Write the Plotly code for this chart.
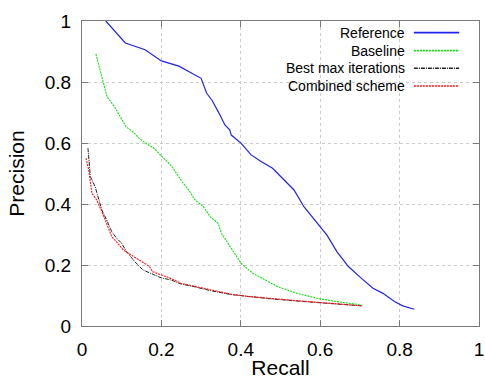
import plotly.graph_objects as go

# ---- data ----
ref_recall = [0.06, 0.109, 0.159, 0.2, 0.244, 0.269, 0.3, 0.314, 0.327, 0.343, 0.36, 0.372, 0.376,
              0.401, 0.426, 0.451, 0.48, 0.493, 0.513, 0.534, 0.559, 0.592, 0.617, 0.642, 0.671,
              0.704, 0.733, 0.758, 0.787, 0.808, 0.837]
ref_precision = [1.0, 0.928, 0.906, 0.869, 0.852, 0.834, 0.812, 0.763, 0.741, 0.703, 0.659, 0.643, 0.626,
                 0.599, 0.561, 0.539, 0.517, 0.5, 0.473, 0.446, 0.391, 0.337, 0.298, 0.244, 0.195,
                 0.156, 0.124, 0.107, 0.08, 0.066, 0.055]

base_recall = [0.035, 0.063, 0.082, 0.111, 0.128, 0.144, 0.161, 0.182, 0.202, 0.227, 0.252, 0.269,
               0.285, 0.306, 0.323, 0.343, 0.351, 0.368, 0.385, 0.401, 0.43, 0.468, 0.493, 0.542,
               0.592, 0.642, 0.704]
base_precision = [0.892, 0.752, 0.719, 0.653, 0.637, 0.615, 0.599, 0.582, 0.555, 0.522, 0.473, 0.446,
                  0.413, 0.391, 0.358, 0.337, 0.304, 0.271, 0.238, 0.205, 0.173, 0.145, 0.129, 0.107,
                  0.091, 0.08, 0.069]

best_recall = [0.015, 0.021, 0.033, 0.05, 0.062, 0.075, 0.087, 0.1, 0.112, 0.133, 0.153, 0.174, 0.199,
               0.224, 0.249, 0.282, 0.323, 0.376, 0.418, 0.476, 0.54, 0.6, 0.65, 0.704]
best_precision = [0.583, 0.49, 0.457, 0.38, 0.348, 0.309, 0.288, 0.271, 0.244, 0.211, 0.184, 0.173,
                  0.158, 0.151, 0.138, 0.129, 0.116, 0.103, 0.097, 0.089, 0.082, 0.076, 0.071, 0.066]

comb_recall = [0.01, 0.017, 0.025, 0.037, 0.05, 0.062, 0.075, 0.087, 0.104, 0.124, 0.145, 0.17, 0.178,
               0.199, 0.224, 0.249, 0.282, 0.323, 0.376, 0.418, 0.476, 0.54, 0.6, 0.65, 0.706]
comb_precision = [0.55, 0.511, 0.435, 0.413, 0.375, 0.337, 0.293, 0.276, 0.249, 0.233, 0.216, 0.195,
                  0.178, 0.167, 0.156, 0.14, 0.131, 0.118, 0.104, 0.097, 0.09, 0.083, 0.077, 0.072, 0.066]

series_names = ["Reference", "Baseline", "Best max iterations", "Combined scheme"]
tick_vals = [0, 0.2, 0.4, 0.6, 0.8, 1]
tick_text = ["0", "0.2", "0.4", "0.6", "0.8", "1"]

# ---- styles ----
colors = ["#2222ee", "#11dd11", "#222222", "#ff1111"]
dashes = ["solid", "2px,1px", "4px,1px,1px,1px", "2px,1px"]
widths = [1.2, 1.1, 1.0, 1.1]
FONT = "Liberation Sans, Arial, sans-serif"

fig = go.Figure()
data = [(ref_recall, ref_precision), (base_recall, base_precision),
        (best_recall, best_precision), (comb_recall, comb_precision)]
for (xs, ys), name, c, d, w in zip(data, series_names, colors, dashes, widths):
    fig.add_trace(go.Scatter(x=xs, y=ys, mode="lines", name=name, showlegend=False,
                             line=dict(color=c, dash=d, width=w)))

# manual legend (text right-aligned, sample line to the right)
leg_y = [0.962, 0.903, 0.845, 0.787]
for name, c, d, w, yy in zip(series_names, colors, dashes, widths, leg_y):
    fig.add_annotation(x=0.818, y=yy, xref="paper", yref="paper", text=name, showarrow=False,
                       xanchor="right", yanchor="middle",
                       font=dict(family=FONT, size=14, color="black"))
    fig.add_shape(type="line", xref="paper", yref="paper", x0=0.836, x1=0.95, y0=yy, y1=yy,
                  line=dict(color=c, dash=d, width=w + 0.5))

axis_common = dict(range=[0, 1], tickvals=tick_vals, ticktext=tick_text,
                   showline=True, linecolor="#7a7a7a", linewidth=1, mirror="ticks",
                   ticks="inside", ticklen=6, tickcolor="#7a7a7a", tickwidth=1,
                   showgrid=True, gridcolor="#cccccc", griddash="dot", gridwidth=1,
                   zeroline=False, fixedrange=True, ticklabeloverflow="allow",
                   tickfont=dict(family=FONT, size=19, color="black"))

fig.update_xaxes(**axis_common, ticklabelstandoff=6,
                 title=dict(text="Recall", standoff=4,
                            font=dict(family=FONT, size=21, color="black")))
fig.update_yaxes(**axis_common, ticklabelstandoff=6,
                 title=dict(text="Precision", standoff=14,
                            font=dict(family=FONT, size=21, color="black")))

fig.update_layout(width=485, height=379, margin=dict(l=82, r=1, t=21, b=53),
                  plot_bgcolor="white", paper_bgcolor="white", showlegend=False)

fig.write_html("out.html")
